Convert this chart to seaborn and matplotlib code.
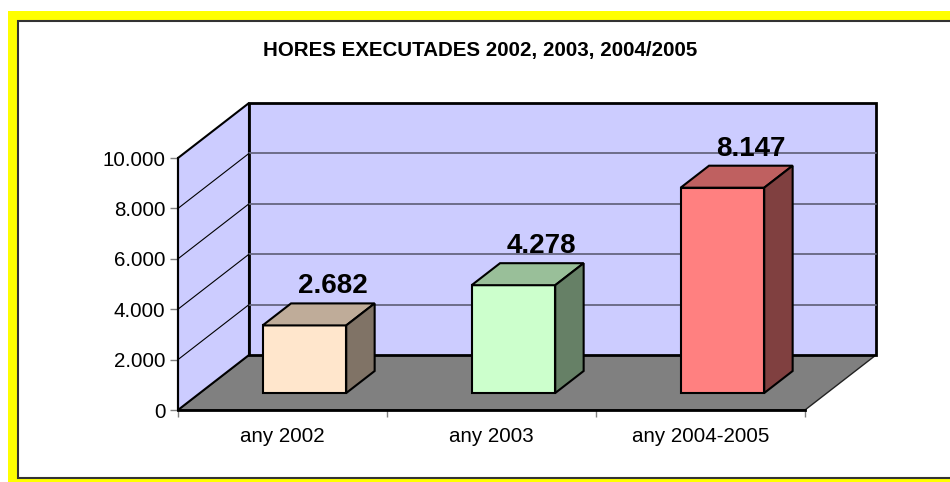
import matplotlib
matplotlib.use("Agg")
import matplotlib.pyplot as plt
import seaborn as sns
import pandas as pd
import numpy as np
from matplotlib.patches import Polygon, Rectangle
from matplotlib.lines import Line2D
from matplotlib.transforms import ScaledTranslation, IdentityTransform
from matplotlib.ticker import FuncFormatter

# --- Dades ---
categories = ['any 2002', 'any 2003', 'any 2004-2005']
hores = [2682, 4278, 8147]
ticks_y = [0, 2000, 4000, 6000, 8000, 10000]
titol = 'HORES EXECUTADES 2002, 2003, 2004/2005'

colors_frontal = ['#FFE6CC', '#CCFFCC', '#FF8080']
colors_superior = ['#BFAC99', '#99BF99', '#BF6060']
colors_lateral = ['#807366', '#668066', '#804040']

df = pd.DataFrame({'periode': categories, 'hores': hores})


def punts(v):
    return f"{int(v):,}".replace(',', '.')


sns.set_style('white')
plt.rcParams['font.family'] = ['Liberation Sans', 'DejaVu Sans']
plt.rcParams['text.color'] = 'black'

fig = plt.figure(figsize=(9.5, 4.82), dpi=100)
fig.patch.set_facecolor('white')

# marc groc i fons blanc
fig.add_artist(Rectangle((0.08, -0.1), 9.6, 4.81, transform=fig.dpi_scale_trans,
                         facecolor='#FFFF00', edgecolor='none', zorder=-3))
fig.add_artist(Rectangle((0.18, 0.04), 10, 4.57, transform=fig.dpi_scale_trans,
                         facecolor='white', edgecolor='#333333', lw=1.5, zorder=-2))

ax = fig.add_axes([178/950, 72/482, 627/950, 252/482])
ax.patch.set_visible(False)
sns.barplot(data=df, x='periode', y='hores', hue='periode', palette=colors_frontal,
            width=0.4, saturation=1, legend=False, edgecolor='black', linewidth=1.5, ax=ax)
barres = list(ax.patches)
ax.set_xlim(-0.5, 2.5)
ax.set_ylim(0, 10000)

# --- perspectiva ---
PROF = (71, 55)          # desplaçament (px) de tota la profunditat
D0, D1 = 17/55, 39/55    # cara davantera i posterior de les barres


def proj(x, y, d):
    px, py = ax.transData.transform((x, y))
    return (px + d*PROF[0], py + d*PROF[1])


def cara(pts, color, z, lw=1.5, ec='black'):
    ax.add_patch(Polygon(pts, closed=True, transform=IdentityTransform(), facecolor=color,
                         edgecolor=ec, lw=lw, zorder=z, clip_on=False))


def linia(p0, p1, color, lw, z):
    ax.add_line(Line2D([p0[0], p1[0]], [p0[1], p1[1]], transform=IdentityTransform(),
                       color=color, lw=lw, zorder=z, clip_on=False))


ymax = ticks_y[-1]
cara([proj(-0.5, 0, 0), proj(2.5, 0, 0), proj(2.5, 0, 1), proj(-0.5, 0, 1)], '#808080', 0.5, lw=1, ec='#222222')
cara([proj(-0.5, 0, 1), proj(2.5, 0, 1), proj(2.5, ymax, 1), proj(-0.5, ymax, 1)], '#CCCCFF', 0.6, lw=2)
cara([proj(-0.5, 0, 0), proj(-0.5, ymax, 0), proj(-0.5, ymax, 1), proj(-0.5, 0, 1)], '#CCCCFF', 0.7, lw=1.5)

for v in ticks_y[1:-1]:
    linia(proj(-0.5, v, 1), proj(2.5, v, 1), '#666680', 1.3, 0.8)
    linia(proj(-0.5, v, 0), proj(-0.5, v, 1), 'black', 0.8, 0.8)

for barra, cs, cl, v in zip(barres, colors_superior, colors_lateral, hores):
    x0 = barra.get_x()
    x1 = x0 + barra.get_width()
    h = barra.get_height()
    barra.set_transform(ax.transData + ScaledTranslation(D0*PROF[0]/100, D0*PROF[1]/100, fig.dpi_scale_trans))
    barra.set_clip_on(False)
    barra.set_zorder(3)
    cara([proj(x0, h, D0), proj(x1, h, D0), proj(x1, h, D1), proj(x0, h, D1)], cs, 3)
    cara([proj(x1, 0, D0), proj(x1, h, D0), proj(x1, h, D1), proj(x1, 0, D1)], cl, 3)
    px, py = proj((x0 + x1)/2, h, D1)
    ax.text(px, py + 10, punts(v), transform=IdentityTransform(), ha='center', va='baseline',
            fontsize=20, fontweight='bold', color='black', zorder=4)

# --- eixos ---
ax.set_yticks(ticks_y)
ax.yaxis.set_major_formatter(FuncFormatter(lambda v, p: punts(v)))
ax.set_xticks(range(len(categories)))
ax.set_xticklabels(categories)
ax.set_xticks([-0.5, 0.5, 1.5, 2.5], minor=True)
ax.tick_params(axis='y', left=True, length=6, width=1, color='#808080', pad=3,
               labelsize=14.8, labelcolor='black')
ax.tick_params(axis='x', which='major', bottom=False, length=0, pad=12,
               labelsize=14.8, labelcolor='black')
ax.tick_params(axis='x', which='minor', bottom=True, length=5, width=1, color='#808080')
ax.set_xlabel('')
ax.set_ylabel('')
for s in ['top', 'right']:
    ax.spines[s].set_visible(False)
ax.spines['left'].set_color('black')
ax.spines['left'].set_linewidth(1.5)
ax.spines['bottom'].set_color('black')
ax.spines['bottom'].set_linewidth(2)

fig.text(480.5/950, 1 - 56/482, titol, ha='center', va='baseline', fontsize=14.8,
         fontweight='bold', color='black')

fig.savefig('out.png', dpi=100)
